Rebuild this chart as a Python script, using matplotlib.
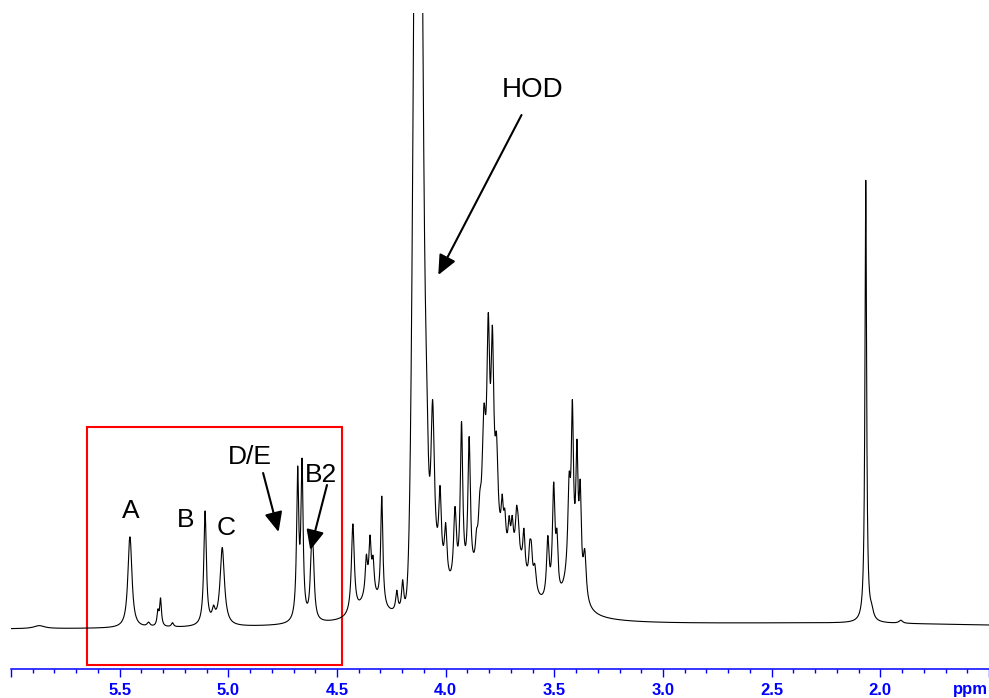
import numpy as np
import matplotlib
matplotlib.use("Agg")
import matplotlib.pyplot as plt
from matplotlib.patches import Rectangle, FancyArrowPatch

plt.rcParams['font.family'] = ['Liberation Sans', 'DejaVu Sans']

#### DATA

# sharp lines: position (ppm), height (a.u.), half width (ppm)
line_ppm = [5.870, 5.4555, 5.4500, 5.367, 5.324, 5.312, 5.257,
            5.107, 5.068, 5.028,
            4.681, 4.661, 4.618, 4.610,
            4.427, 4.365, 4.348, 4.334, 4.294, 4.225, 4.198,
            4.088, 4.060, 4.026, 4.000, 3.957, 3.927, 3.892,
            3.858, 3.843, 3.824, 3.804, 3.785, 3.766,
            3.740, 3.728, 3.708, 3.694, 3.674, 3.667, 3.640,
            3.613, 3.606, 3.590, 3.530, 3.503, 3.488,
            3.432, 3.417, 3.396, 3.381, 3.360,
            2.067, 2.040, 1.906]
line_height = [3, 50, 48, 4, 14, 27, 4,
               114, 12, 78,
               145, 152, 50, 52,
               90, 35, 50, 30, 110, 20, 30,
               110, 170, 75, 50, 75, 160, 140,
               20, 40, 120, 190, 180, 80,
               40, 30, 30, 30, 35, 25, 40,
               30, 30, 25, 60, 110, 50,
               80, 150, 120, 90, 45,
               442, 8, 3]
line_hwhm = [0.03, 0.010, 0.010, 0.008, 0.005, 0.005, 0.006,
             0.007, 0.008, 0.012,
             0.006, 0.006, 0.007, 0.007,
             0.008, 0.006, 0.006, 0.006, 0.006, 0.006, 0.006,
             0.012, 0.010, 0.007, 0.007, 0.008, 0.007, 0.007,
             0.006, 0.008, 0.010, 0.008, 0.008, 0.008,
             0.006, 0.006, 0.006, 0.006, 0.006, 0.006, 0.006,
             0.006, 0.006, 0.008, 0.007, 0.007, 0.006,
             0.007, 0.006, 0.006, 0.006, 0.008,
             0.0045, 0.010, 0.010]

# broad humps under the sugar region and baseline
hump_ppm = [3.78, 4.03, 3.42, 4.35, 3.67, 3.9, 2.2]
hump_height = [55, 28, 40, 25, 35, 8, 6]
hump_hwhm = [0.09, 0.05, 0.04, 0.05, 0.05, 0.5, 1.2]

# water signal (cut off at the top)
hod_ppm = 4.127
hod_height = 1130
hod_sigma = 0.018

# labels: text, text position (ppm, a.u.), arrow tip (ppm, a.u.) or None
labels = ['A', 'B', 'C', 'D/E', 'B2', 'HOD']
label_pos = [(5.447, 119), (5.197, 110), (5.011, 102), (4.902, 173), (4.573, 155), (3.599, 540)]
arrow_from = [None, None, None, (4.840, 157), (4.546, 145), (3.651, 515)]
arrow_to = [None, None, None, (4.769, 98), (4.623, 80), (4.034, 355)]

# region box (ppm range, a.u. range)
box_ppm = (5.652, 4.476)
box_int = (-35, 203)


#### BUILD SPECTRUM
ppm = np.linspace(6.0, 1.5, 12000)
spec = np.zeros_like(ppm)
for c, h, w in zip(line_ppm + hump_ppm, line_height + hump_height, line_hwhm + hump_hwhm):
    spec += h / (1 + ((ppm - c) / w) ** 2)
spec += hod_height * np.exp(-0.5 * ((ppm - hod_ppm) / hod_sigma) ** 2)

#### PLOT
fig = plt.figure(figsize=(9.89, 6.98), dpi=100)
ax = fig.add_axes([11 / 989, 29 / 698, 978 / 989, 656 / 698])
ax.plot(ppm, spec, color='black', lw=0.8)
ax.set_xlim(6.0, 1.5)
ax.set_ylim(-39, 617)

for s in ['top', 'left', 'right']:
    ax.spines[s].set_visible(False)
ax.spines['bottom'].set_color('blue')
ax.spines['bottom'].set_linewidth(1.1)
ax.set_yticks([])

major = np.arange(6.0, 1.49, -0.5)
ax.set_xticks(major)
ax.set_xticklabels(['' if (m > 5.9 or m < 1.6) else '%.1f' % m for m in major])
ax.set_xticks(np.arange(6.0, 1.49, -0.1), minor=True)
ax.tick_params(axis='x', which='major', direction='out', length=5.8, width=1,
               color='blue', labelcolor='blue', labelsize=12, pad=4.5)
ax.tick_params(axis='x', which='minor', direction='out', length=2.9, width=1, color='blue')
for t in ax.get_xticklabels():
    t.set_fontweight('bold')
ax.text(0.999, -0.032, 'ppm', transform=ax.transAxes, ha='right', va='center',
        color='blue', fontsize=12, fontweight='bold')

# region of interest
ax.add_patch(Rectangle((box_ppm[0], box_int[0]), box_ppm[1] - box_ppm[0], box_int[1] - box_int[0],
                       fill=False, edgecolor='red', lw=1.5, clip_on=False))

for lab, pos, a0, a1 in zip(labels, label_pos, arrow_from, arrow_to):
    ax.text(pos[0], pos[1], lab, ha='center', va='center', fontsize=20 if lab == 'HOD' else 19)
    if a0 is not None:
        ax.add_patch(FancyArrowPatch(a0, a1, arrowstyle='-|>,head_length=0.6,head_width=0.27',
                                     mutation_scale=20, color='black', lw=1.5, shrinkA=0, shrinkB=0))

fig.savefig('out.png', dpi=100)
